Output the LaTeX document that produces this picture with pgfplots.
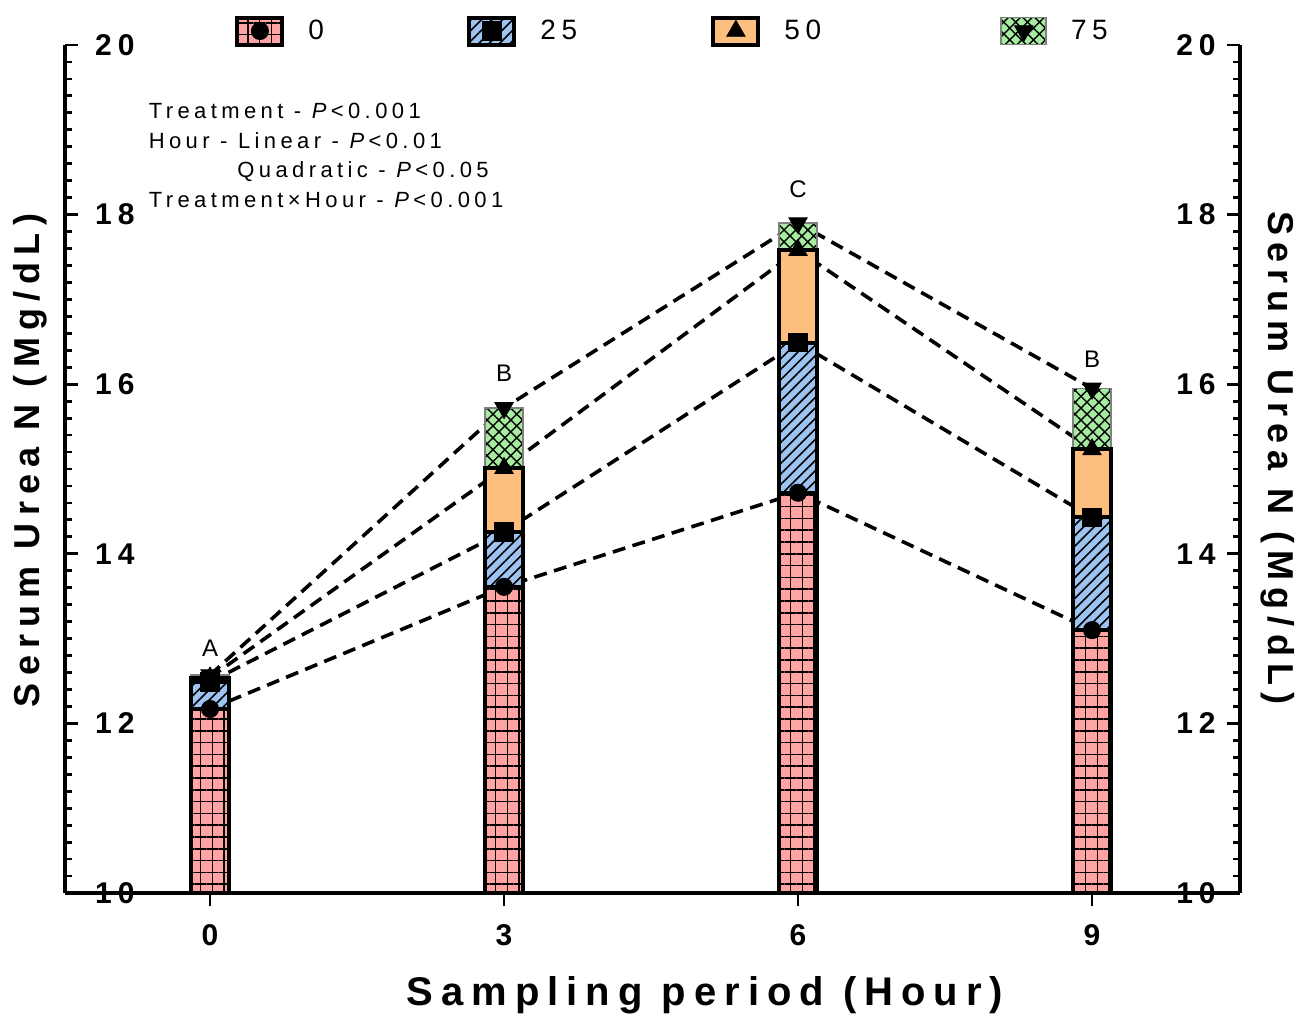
\documentclass[border=0pt]{standalone}
\usepackage{pgfplots}
\usepackage{pgfplotstable}
\pgfplotsset{compat=1.18}
\usetikzlibrary{patterns.meta}
\usepackage{fontspec}
\setmainfont{Liberation Sans}[LetterSpace=20]
\definecolor{pinkc}{HTML}{FFA3A3}
\definecolor{bluec}{HTML}{9DC3F0}
\definecolor{orangec}{HTML}{FCBF7F}
\definecolor{greenc}{HTML}{A5EBA0}
\tikzset{
  pinkbar/.style={preaction={fill=pinkc}, pattern={Hatch[angle=0,distance=5.9pt,line width=0.8pt]}, pattern color=black, draw=black, line width=2pt},
  bluebar/.style={preaction={fill=bluec}, pattern={Lines[angle=45,distance=3.7pt,line width=0.8pt]}, pattern color=black, draw=black, line width=2pt},
  orangebar/.style={fill=orangec, draw=black, line width=2pt},
  greenbar/.style={preaction={fill=greenc}, pattern={Hatch[angle=45,distance=4.2pt,line width=0.7pt]}, pattern color=black, draw=gray, line width=0.8pt},
  meanline/.style={black, line width=1.8pt, dash pattern=on 6.5pt off 3.8pt},
}
\pgfplotstableread{
x  t0    t25   t50   t75
0  12.17 12.49 12.54 12.57
3  13.61 14.26 15.01 15.72
6  14.72 16.49 17.58 17.90
9  13.10 14.43 15.23 15.95
}\datatable
\begin{document}
\begin{tikzpicture}
\useasboundingbox (-32.5pt,-60.5pt) rectangle (616pt,446.5pt);
\begin{axis}[
  at={(0pt,0pt)}, anchor=south west,
  scale only axis, width=587.5pt, height=424pt,
  xmin=-1.48, xmax=10.51, ymin=10, ymax=20,
  axis x line=bottom, axis y line=left,
  axis line style={line width=1.8pt, -},
  xtick={0,3,6,9}, ytick={10,12,...,20}, minor y tick num=9,
  xtick align=outside, ytick align=inside,
  major tick length=6.5pt, minor tick length=3.5pt,
  every tick/.style={black, line width=1.4pt},
  tick label style={font=\fontsize{15}{17}\selectfont\bfseries},
  /pgf/number format/assume math mode=true,
  yticklabel style={anchor=east, inner sep=0pt, xshift=35pt},
  xticklabel style={anchor=north, inner sep=0pt, yshift=-9pt},
  xlabel={Sampling period (Hour)},
  ylabel={Serum Urea N (Mg/dL)},
  xlabel style={at={(axis description cs:0.5447,-0.120)}, anchor=center, font=\fontsize{20}{24}\selectfont\bfseries},
  ylabel style={at={(axis description cs:-0.0298,0.51)}, anchor=center, font=\fontsize{18}{21}\selectfont\bfseries},
  clip mode=individual,
  legend columns=4,
  legend style={at={(axis description cs:0.1447,1.0165)}, anchor=west, draw=none, fill=none, inner sep=0pt,
    font=\fontsize{14}{16}\selectfont, nodes={inner sep=0pt},
    /tikz/every odd column/.append style={column sep=12pt}},
]
% mean connecting lines (behind bars)
\addplot[meanline, forget plot] table[x=x, y=t0] {\datatable};
\addplot[meanline, forget plot] table[x=x, y=t25] {\datatable};
\addplot[meanline, forget plot] table[x=x, y=t50] {\datatable};
\addplot[meanline, forget plot] table[x=x, y=t75] {\datatable};
% bars, tallest first
\addplot[ybar, bar width=19pt, bar shift=0pt, greenbar, forget plot] table[x=x, y=t75] {\datatable};
\addplot[ybar, bar width=19pt, bar shift=0pt, orangebar, forget plot] table[x=x, y=t50] {\datatable};
\addplot[ybar, bar width=19pt, bar shift=0pt, bluebar, forget plot] table[x=x, y=t25] {\datatable};
\addplot[ybar, bar width=19pt, bar shift=0pt, pinkbar, forget plot] table[x=x, y=t0] {\datatable};
% markers
\addplot[only marks, mark=*, mark size=4.3pt, mark options={fill=black, draw=black}, forget plot] table[x=x, y=t0] {\datatable};
\addplot[only marks, mark=square*, mark size=4.6pt, mark options={fill=black, draw=black}, forget plot] table[x=x, y=t25] {\datatable};
\addplot[only marks, mark=triangle*, mark size=5.3pt, mark options={fill=black, draw=black}, forget plot] table[x=x, y=t50] {\datatable};
\addplot[only marks, mark=triangle*, mark size=5.3pt, mark options={fill=black, draw=black, rotate=180}, forget plot] table[x=x, y=t75] {\datatable};
% legend
\addlegendimage{legend image code/.code={
  \draw[pinkbar] (0pt,-6.75pt) rectangle (22.5pt,6.75pt);
  \draw[black, mark=*, mark size=4.3pt, mark options={solid, fill=black}] plot coordinates {(11.25pt,0pt)};
}}
\addlegendentry{\makebox[79.5pt][l]{0}}
\addlegendimage{legend image code/.code={
  \draw[bluebar] (0pt,-6.75pt) rectangle (22.5pt,6.75pt);
  \draw[black, mark=square*, mark size=4.6pt, mark options={solid, fill=black}] plot coordinates {(11.25pt,0pt)};
}}
\addlegendentry{\makebox[85.5pt][l]{25}}
\addlegendimage{legend image code/.code={
  \draw[orangebar] (0pt,-6.75pt) rectangle (22.5pt,6.75pt);
  \draw[black, mark=triangle*, mark size=5.3pt, mark options={solid, fill=black}] plot coordinates {(11.25pt,0pt)};
}}
\addlegendentry{\makebox[108pt][l]{50}}
\addlegendimage{legend image code/.code={
  \draw[greenbar] (0pt,-6.75pt) rectangle (22.5pt,6.75pt);
  \draw[black, mark=triangle*, mark size=5.3pt, mark options={solid, fill=black, rotate=180}] plot coordinates {(11.25pt,0pt)};
}}
\addlegendentry{75}
% significance letters
\node[font=\fontsize{12}{14}\selectfont] at (axis cs:0,12.89) {A};
\node[font=\fontsize{12}{14}\selectfont] at (axis cs:3,16.13) {B};
\node[font=\fontsize{12}{14}\selectfont] at (axis cs:6,18.30) {C};
\node[font=\fontsize{12}{14}\selectfont] at (axis cs:9,16.30) {B};
% statistics text
\node[anchor=base west, inner sep=0pt, font=\fontsize{11}{13}\selectfont] at (axis description cs:0.071,0.9139) {Treatment - \textit{P}<0.001};
\node[anchor=base west, inner sep=0pt, font=\fontsize{11}{13}\selectfont] at (axis description cs:0.071,0.8785) {Hour - Linear - \textit{P}<0.01};
\node[anchor=base west, inner sep=0pt, font=\fontsize{11}{13}\selectfont] at (axis description cs:0.1464,0.8432) {Quadratic - \textit{P}<0.05};
\node[anchor=base west, inner sep=0pt, font=\fontsize{11}{13}\selectfont] at (axis description cs:0.071,0.8078) {Treatment×Hour - \textit{P}<0.001};
\end{axis}
\begin{axis}[
  at={(0pt,0pt)}, anchor=south west,
  scale only axis, width=587.5pt, height=424pt,
  xmin=-1.48, xmax=10.51, ymin=10, ymax=20,
  axis x line=none, axis y line=right,
  axis line style={line width=1.8pt, -},
  ytick={10,12,...,20}, minor y tick num=9,
  ytick align=inside,
  major tick length=6.5pt, minor tick length=3.5pt,
  every tick/.style={black, line width=1.4pt},
  tick label style={font=\fontsize{15}{17}\selectfont\bfseries},
  /pgf/number format/assume math mode=true,
  yticklabel style={anchor=east, inner sep=0pt, xshift=-12pt},
  ylabel={Serum Urea N (Mg/dL)},
  ylabel style={at={(axis description cs:1.0323,0.513)}, anchor=center, rotate=180, font=\fontsize{18}{21}\selectfont\bfseries},
]
\end{axis}
\end{tikzpicture}
\end{document}
